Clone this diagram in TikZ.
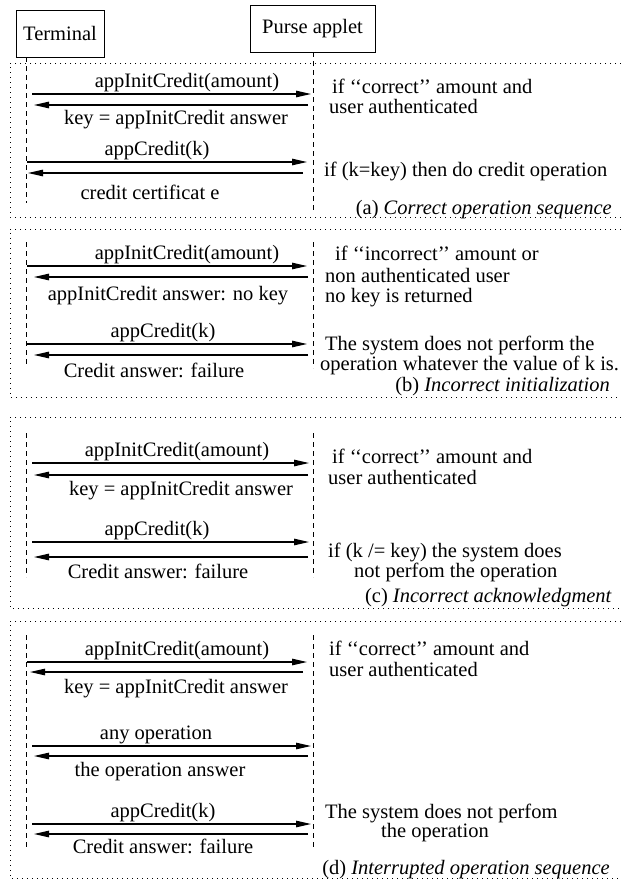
\documentclass[tikz,border=0pt]{standalone}
\usepackage{fontspec}
\setmainfont{Liberation Serif}
\usetikzlibrary{arrows.meta}
\begin{document}
\begin{tikzpicture}[x=1pt,y=-1pt,
  every node/.style={font=\fontsize{20.5}{21}\selectfont, inner sep=0pt},
  actor/.style={draw, line width=0.9pt, inner sep=0pt},
  life/.style={dash pattern=on 5pt off 4pt, line width=0.8pt},
  secframe/.style={dash pattern=on 1pt off 4pt, line width=0.9pt},
  msg/.style={line width=1.1pt, -{Triangle[length=15pt,width=6.5pt]}},
  lbl/.style={anchor=base},
  note/.style={anchor=base west},
  captxt/.style={anchor=base east}
]
\useasboundingbox (0,0) rectangle (621,881);

% actors
\node[actor, minimum width=88pt, minimum height=47pt] (T) at (60,33.5) {Terminal};
\node[actor, minimum width=125pt, minimum height=47pt] (P) at (312.5,28.5) {Purse applet};

% ---------------- section frames
\coordinate (fa1) at (621,63);  \coordinate (fa2) at (10,63);
\coordinate (fa3) at (10,217);  \coordinate (fa4) at (621,217);
\draw[secframe] (fa1) -- (fa2) -- (fa3) -- (fa4);
\coordinate (fb1) at (621,229); \coordinate (fb2) at (10,229);
\coordinate (fb3) at (10,397);  \coordinate (fb4) at (621,397);
\draw[secframe] (fb1) -- (fb2) -- (fb3) -- (fb4);
\coordinate (fc1) at (621,417); \coordinate (fc2) at (10,417);
\coordinate (fc3) at (10,608);  \coordinate (fc4) at (621,608);
\draw[secframe] (fc1) -- (fc2) -- (fc3) -- (fc4);
\coordinate (fd1) at (621,621); \coordinate (fd2) at (10,621);
\coordinate (fd3) at (10,878);  \coordinate (fd4) at (621,878);
\draw[secframe] (fd1) -- (fd2) -- (fd3) -- (fd4);

% ---------------- lifelines
\coordinate (Ta0) at (26.5,57);  \coordinate (Ta1) at (26.5,203);
\coordinate (Pa0) at (313,52);   \coordinate (Pa1) at (313,213);
\draw[life] (Ta0) -- (Ta1);
\draw[life] (Pa0) -- (Pa1);
\coordinate (Tb0) at (26.5,242); \coordinate (Tb1) at (26.5,367);
\coordinate (Pb0) at (313,242);  \coordinate (Pb1) at (313,368);
\draw[life] (Tb0) -- (Tb1);
\draw[life] (Pb0) -- (Pb1);
\coordinate (Tc0) at (26.5,433); \coordinate (Tc1) at (26.5,577);
\coordinate (Pc0) at (313,433);  \coordinate (Pc1) at (313,577);
\draw[life] (Tc0) -- (Tc1);
\draw[life] (Pc0) -- (Pc1);
\coordinate (Td0) at (26.5,635); \coordinate (Td1) at (26.5,850);
\coordinate (Pd0) at (313,635);  \coordinate (Pd1) at (313,850);
\draw[life] (Td0) -- (Td1);
\draw[life] (Pd0) -- (Pd1);

% ---------------- (a) Correct operation sequence
\coordinate (a1s) at (32,94);   \coordinate (a1e) at (311,94);
\coordinate (a2s) at (308,105); \coordinate (a2e) at (34,105);
\coordinate (a3s) at (27,162);  \coordinate (a3e) at (307,162);
\coordinate (a4s) at (303,173); \coordinate (a4e) at (28,173);
\draw[msg] (a1s) -- (a1e);
\draw[msg] (a2s) -- (a2e);
\draw[msg] (a3s) -- (a3e);
\draw[msg] (a4s) -- (a4e);
\node[lbl] (la1) at (187,87) {appInitCredit(amount)};
\node[lbl] (la2) at (176,124) {key = appInitCredit answer};
\node[lbl] (la3) at (157,155) {appCredit(k)};
\node[lbl] (la4) at (150,199) {credit certificat e};
\node[note] (na1) at (332,93) {if `{}`correct'{}' amount and};
\node[note] (na2) at (329,113) {user authenticated};
\node[note] (na3) at (324,176) {if (k=key) then do credit operation};
\node[captxt] (ca) at (612,214) {(a) \textit{Correct operation sequence}};

% ---------------- (b) Incorrect initialization
\coordinate (b1s) at (27,266);  \coordinate (b1e) at (307,266);
\coordinate (b2s) at (308,277); \coordinate (b2e) at (34,277);
\coordinate (b3s) at (27,344);  \coordinate (b3e) at (307,344);
\coordinate (b4s) at (308,355); \coordinate (b4e) at (34,355);
\draw[msg] (b1s) -- (b1e);
\draw[msg] (b2s) -- (b2e);
\draw[msg] (b3s) -- (b3e);
\draw[msg] (b4s) -- (b4e);
\node[lbl] (lb1) at (187,259) {appInitCredit(amount)};
\node[lbl] (lb2) at (168,300) {appInitCredit answer: no key};
\node[lbl] (lb3) at (163,337) {appCredit(k)};
\node[lbl] (lb4) at (154,377) {Credit answer: failure};
\node[note] (nb1) at (335,260) {if `{}`incorrect'{}' amount or};
\node[note] (nb2) at (325,282) {non authenticated user};
\node[note] (nb3) at (325,302) {no key is returned};
\node[note] (nb4) at (325,350) {The system does not perform the};
\node[note] (nb5) at (320,370) {operation whatever the value of k is.};
\node[captxt] (cb) at (610,391) {(b) \textit{Incorrect initialization}};

% ---------------- (c) Incorrect acknowledgment
\coordinate (c1s) at (32,463);  \coordinate (c1e) at (309,463);
\coordinate (c2s) at (308,475); \coordinate (c2e) at (34,475);
\coordinate (c3s) at (32,542);  \coordinate (c3e) at (309,542);
\coordinate (c4s) at (308,557); \coordinate (c4e) at (34,557);
\draw[msg] (c1s) -- (c1e);
\draw[msg] (c2s) -- (c2e);
\draw[msg] (c3s) -- (c3e);
\draw[msg] (c4s) -- (c4e);
\node[lbl] (lc1) at (177,456) {appInitCredit(amount)};
\node[lbl] (lc2) at (181,495) {key = appInitCredit answer};
\node[lbl] (lc3) at (157,535) {appCredit(k)};
\node[lbl] (lc4) at (158,578) {Credit answer: failure};
\node[note] (nc1) at (332,463) {if `{}`correct'{}' amount and};
\node[note] (nc2) at (328,484) {user authenticated};
\node[note] (nc3) at (328,557) {if (k /= key) the system does};
\node[note] (nc4) at (354,577) {not perfom the operation};
\node[captxt] (cc) at (612,602) {(c) \textit{Incorrect acknowledgment}};

% ---------------- (d) Interrupted operation sequence
\coordinate (d1s) at (27,662);  \coordinate (d1e) at (307,662);
\coordinate (d2s) at (303,672); \coordinate (d2e) at (30,672);
\coordinate (d3s) at (32,746);  \coordinate (d3e) at (311,746);
\coordinate (d4s) at (308,756); \coordinate (d4e) at (34,756);
\coordinate (d5s) at (32,824);  \coordinate (d5e) at (311,824);
\coordinate (d6s) at (308,834); \coordinate (d6e) at (34,834);
\draw[msg] (d1s) -- (d1e);
\draw[msg] (d2s) -- (d2e);
\draw[msg] (d3s) -- (d3e);
\draw[msg] (d4s) -- (d4e);
\draw[msg] (d5s) -- (d5e);
\draw[msg] (d6s) -- (d6e);
\node[lbl] (ld1) at (177,655) {appInitCredit(amount)};
\node[lbl] (ld2) at (176,693) {key = appInitCredit answer};
\node[lbl] (ld3) at (156,739) {any operation};
\node[lbl] (ld4) at (160,776) {the operation answer};
\node[lbl] (ld5) at (163,817) {appCredit(k)};
\node[lbl] (ld6) at (163,853) {Credit answer: failure};
\node[note] (nd1) at (329,655) {if `{}`correct'{}' amount and};
\node[note] (nd2) at (329,676) {user authenticated};
\node[note] (nd3) at (325,818) {The system does not perfom};
\node[note] (nd4) at (381,837) {the operation};
\node[captxt] (cd) at (610,874) {(d) \textit{Interrupted operation sequence}};
\end{tikzpicture}
\end{document}
